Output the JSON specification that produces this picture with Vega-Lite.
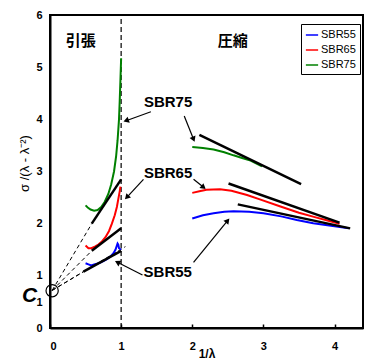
{
  "$schema": "https://vega.github.io/schema/vega-lite/v6.json",
  "width": 313,
  "height": 313,
  "autosize": {"type": "none"},
  "padding": {"left": 50, "top": 15, "right": 10, "bottom": 35},
  "config": {
    "font": "Liberation Sans",
    "view": {"stroke": "black", "strokeWidth": 2},
    "axis": {"grid": false, "domainColor": "black", "domainWidth": 2, "labelColor": "black", "titleColor": "black", "tickColor": "black"}
  },
  "datasets": {
    "curves": [
      {"s": "SBR75", "part": "t", "x": 0.50, "y": 2.35},
      {"s": "SBR75", "part": "t", "x": 0.53, "y": 2.31},
      {"s": "SBR75", "part": "t", "x": 0.57, "y": 2.27},
      {"s": "SBR75", "part": "t", "x": 0.62, "y": 2.25},
      {"s": "SBR75", "part": "t", "x": 0.67, "y": 2.26},
      {"s": "SBR75", "part": "t", "x": 0.72, "y": 2.32},
      {"s": "SBR75", "part": "t", "x": 0.77, "y": 2.42},
      {"s": "SBR75", "part": "t", "x": 0.82, "y": 2.57},
      {"s": "SBR75", "part": "t", "x": 0.86, "y": 2.75},
      {"s": "SBR75", "part": "t", "x": 0.90, "y": 3.00},
      {"s": "SBR75", "part": "t", "x": 0.93, "y": 3.30},
      {"s": "SBR75", "part": "t", "x": 0.95, "y": 3.60},
      {"s": "SBR75", "part": "t", "x": 0.97, "y": 4.00},
      {"s": "SBR75", "part": "t", "x": 0.98, "y": 4.35},
      {"s": "SBR75", "part": "t", "x": 0.99, "y": 4.75},
      {"s": "SBR75", "part": "t", "x": 1.00, "y": 5.17},
      {"s": "SBR65", "part": "t", "x": 0.50, "y": 1.58},
      {"s": "SBR65", "part": "t", "x": 0.54, "y": 1.53},
      {"s": "SBR65", "part": "t", "x": 0.58, "y": 1.53},
      {"s": "SBR65", "part": "t", "x": 0.63, "y": 1.56},
      {"s": "SBR65", "part": "t", "x": 0.68, "y": 1.60},
      {"s": "SBR65", "part": "t", "x": 0.73, "y": 1.66},
      {"s": "SBR65", "part": "t", "x": 0.78, "y": 1.74},
      {"s": "SBR65", "part": "t", "x": 0.83, "y": 1.86},
      {"s": "SBR65", "part": "t", "x": 0.87, "y": 2.00},
      {"s": "SBR65", "part": "t", "x": 0.91, "y": 2.16},
      {"s": "SBR65", "part": "t", "x": 0.94, "y": 2.32},
      {"s": "SBR65", "part": "t", "x": 0.96, "y": 2.47},
      {"s": "SBR65", "part": "t", "x": 0.98, "y": 2.62},
      {"s": "SBR65", "part": "t", "x": 0.99, "y": 2.71},
      {"s": "SBR55", "part": "t", "x": 0.50, "y": 1.24},
      {"s": "SBR55", "part": "t", "x": 0.54, "y": 1.22},
      {"s": "SBR55", "part": "t", "x": 0.58, "y": 1.20},
      {"s": "SBR55", "part": "t", "x": 0.62, "y": 1.22},
      {"s": "SBR55", "part": "t", "x": 0.66, "y": 1.23},
      {"s": "SBR55", "part": "t", "x": 0.70, "y": 1.25},
      {"s": "SBR55", "part": "t", "x": 0.75, "y": 1.28},
      {"s": "SBR55", "part": "t", "x": 0.80, "y": 1.32},
      {"s": "SBR55", "part": "t", "x": 0.85, "y": 1.37},
      {"s": "SBR55", "part": "t", "x": 0.89, "y": 1.43},
      {"s": "SBR55", "part": "t", "x": 0.92, "y": 1.50},
      {"s": "SBR55", "part": "t", "x": 0.94, "y": 1.58},
      {"s": "SBR55", "part": "t", "x": 0.95, "y": 1.62},
      {"s": "SBR55", "part": "t", "x": 0.96, "y": 1.60},
      {"s": "SBR55", "part": "t", "x": 0.97, "y": 1.53},
      {"s": "SBR55", "part": "t", "x": 1.00, "y": 1.50},
      {"s": "SBR75", "part": "c", "x": 2.00, "y": 3.47},
      {"s": "SBR75", "part": "c", "x": 2.15, "y": 3.45},
      {"s": "SBR75", "part": "c", "x": 2.30, "y": 3.42},
      {"s": "SBR75", "part": "c", "x": 2.45, "y": 3.37},
      {"s": "SBR75", "part": "c", "x": 2.58, "y": 3.31},
      {"s": "SBR75", "part": "c", "x": 2.70, "y": 3.26},
      {"s": "SBR75", "part": "c", "x": 2.82, "y": 3.21},
      {"s": "SBR75", "part": "c", "x": 2.98, "y": 3.10},
      {"s": "SBR65", "part": "c", "x": 2.00, "y": 2.59},
      {"s": "SBR65", "part": "c", "x": 2.10, "y": 2.62},
      {"s": "SBR65", "part": "c", "x": 2.20, "y": 2.65},
      {"s": "SBR65", "part": "c", "x": 2.39, "y": 2.66},
      {"s": "SBR65", "part": "c", "x": 2.55, "y": 2.63},
      {"s": "SBR65", "part": "c", "x": 2.77, "y": 2.55},
      {"s": "SBR65", "part": "c", "x": 2.94, "y": 2.47},
      {"s": "SBR65", "part": "c", "x": 3.24, "y": 2.33},
      {"s": "SBR65", "part": "c", "x": 3.50, "y": 2.21},
      {"s": "SBR65", "part": "c", "x": 3.71, "y": 2.13},
      {"s": "SBR65", "part": "c", "x": 3.90, "y": 2.06},
      {"s": "SBR65", "part": "c", "x": 4.07, "y": 2.00},
      {"s": "SBR55", "part": "c", "x": 2.00, "y": 2.10},
      {"s": "SBR55", "part": "c", "x": 2.15, "y": 2.16},
      {"s": "SBR55", "part": "c", "x": 2.30, "y": 2.20},
      {"s": "SBR55", "part": "c", "x": 2.45, "y": 2.23},
      {"s": "SBR55", "part": "c", "x": 2.58, "y": 2.24},
      {"s": "SBR55", "part": "c", "x": 2.80, "y": 2.23},
      {"s": "SBR55", "part": "c", "x": 3.00, "y": 2.20},
      {"s": "SBR55", "part": "c", "x": 3.25, "y": 2.14},
      {"s": "SBR55", "part": "c", "x": 3.47, "y": 2.07},
      {"s": "SBR55", "part": "c", "x": 3.70, "y": 2.01},
      {"s": "SBR55", "part": "c", "x": 3.95, "y": 1.96},
      {"s": "SBR55", "part": "c", "x": 4.20, "y": 1.91}
    ],
    "fits": [
      {"id": "75t", "x": 0.587, "y": 2.00}, {"id": "75t", "x": 1.0, "y": 2.85},
      {"id": "65t", "x": 0.587, "y": 1.48}, {"id": "65t", "x": 1.0, "y": 1.91},
      {"id": "55t", "x": 0.47, "y": 1.08}, {"id": "55t", "x": 1.0, "y": 1.48},
      {"id": "75c", "x": 2.10, "y": 3.70}, {"id": "75c", "x": 3.53, "y": 2.76},
      {"id": "65c", "x": 2.51, "y": 2.77}, {"id": "65c", "x": 4.07, "y": 2.02},
      {"id": "55c", "x": 2.64, "y": 2.37}, {"id": "55c", "x": 4.22, "y": 1.91}
    ],
    "dashes": [
      {"id": "d75", "x": 0.03, "y": 0.72}, {"id": "d75", "x": 0.587, "y": 2.00},
      {"id": "d65", "x": 0.03, "y": 0.72}, {"id": "d65", "x": 0.587, "y": 1.48},
      {"id": "d55", "x": 0.03, "y": 0.72}, {"id": "d55", "x": 0.47, "y": 1.08},
      {"id": "dx", "x": 0.03, "y": 0.72}, {"id": "dx", "x": 1.06, "y": 1.56}
    ],
    "vline": [{"x": 1, "y": 0, "y2": 6}],
    "arrows": [
      {"x": 1.418, "y": 4.146, "x2": 1.070, "y2": 3.974},
      {"x": 1.887, "y": 4.064, "x2": 2.018, "y2": 3.617},
      {"x": 1.314, "y": 2.850, "x2": 1.080, "y2": 2.505},
      {"x": 2.018, "y": 2.850, "x2": 2.159, "y2": 2.697},
      {"x": 1.300, "y": 1.016, "x2": 0.948, "y2": 1.259},
      {"x": 2.018, "y": 1.259, "x2": 2.497, "y2": 2.057}
    ],
    "labels": [
      {"x": 1.66, "y": 4.33, "text": "SBR75"},
      {"x": 1.66, "y": 2.97, "text": "SBR65"},
      {"x": 1.655, "y": 1.08, "text": "SBR55"}
    ],
    "regions": [
      {"x": 0.434, "y": 5.5, "text": "引張"},
      {"x": 2.57, "y": 5.5, "text": "圧縮"}
    ],
    "circle": [{"x": 0.03, "y": 0.715}],
    "cbig": [{"x": -0.288, "y": 0.623, "text": "C"}],
    "csub": [{"x": -0.148, "y": 0.479, "text": "1"}]
  },
  "encoding": {
    "x": {"field": "x", "type": "quantitative", "title": "1/λ",
      "scale": {"domain": [0, 4.4], "nice": false, "zero": false},
      "axis": {"values": [0, 1, 2, 3, 4], "format": "d", "labelFont": "Liberation Sans", "labelFontWeight": "bold", "labelFontSize": 11, "tickSize": -4, "tickWidth": 1.5, "labelPadding": 16, "titleFont": "Liberation Sans", "titleFontWeight": "bold", "titleFontSize": 12, "titlePadding": -3}},
    "y": {"field": "y", "type": "quantitative", "title": "σ /(λ - λ⁻²)",
      "scale": {"domain": [0, 6], "nice": false, "zero": false},
      "axis": {"values": [0, 1, 2, 3, 4, 5, 6], "format": "d", "labelFont": "Liberation Sans", "labelFontWeight": "bold", "labelFontSize": 11, "ticks": false, "labelPadding": 8, "titleFont": "Liberation Sans", "titleFontWeight": "normal", "titleFontSize": 13, "titleX": -26, "titleY": 148, "titleBaseline": "middle", "titleAlign": "center", "titleAngle": -90}}
  },
  "layer": [
    {
      "data": {"name": "vline"},
      "mark": {"type": "rule", "color": "black", "strokeWidth": 1.2, "strokeDash": [5, 3]},
      "encoding": {"y2": {"field": "y2"}}
    },
    {
      "data": {"name": "dashes"},
      "mark": {"type": "line", "color": "black", "strokeWidth": 1, "strokeDash": [4, 3]},
      "encoding": {"detail": {"field": "id"}}
    },
    {
      "data": {"name": "curves"},
      "mark": {"type": "line", "strokeWidth": 2},
      "encoding": {
        "color": {"field": "s", "type": "nominal",
          "scale": {"domain": ["SBR55", "SBR65", "SBR75"], "range": ["#0000ff", "#ff0000", "#008000"]},
          "legend": {"title": null, "orient": "none", "legendX": 251, "legendY": 9, "strokeColor": "black", "fillColor": "white", "padding": 4, "symbolType": "stroke", "symbolSize": 150, "symbolStrokeWidth": 1.5, "labelFontSize": 11, "labelFont": "Liberation Sans", "labelColor": "black", "rowPadding": 3, "labelOffset": 2, "cornerRadius": 0}},
        "detail": {"field": "part"}
      }
    },
    {
      "data": {"name": "fits"},
      "mark": {"type": "line", "color": "black", "strokeWidth": 2.5},
      "encoding": {"detail": {"field": "id"}}
    },
    {
      "data": {"name": "arrows"},
      "mark": {"type": "rule", "color": "black", "strokeWidth": 1.2},
      "encoding": {"x2": {"field": "x2"}, "y2": {"field": "y2"}}
    },
    {
      "data": {"name": "arrows"},
      "transform": [{"calculate": "(atan2((datum.x2-datum.x)*71.14, (datum.y2-datum.y)*52.17)*180/PI + 360) % 360", "as": "ang"}],
      "mark": {"type": "point", "shape": "triangle-up", "filled": true, "color": "black", "size": 40, "opacity": 1},
      "encoding": {
        "x": {"field": "x2", "type": "quantitative", "title": "1/λ"},
        "y": {"field": "y2", "type": "quantitative", "title": "σ /(λ - λ⁻²)"},
        "angle": {"field": "ang", "type": "quantitative", "scale": null}
      }
    },
    {
      "data": {"name": "labels"},
      "mark": {"type": "text", "font": "Liberation Sans", "fontWeight": "bold", "fontSize": 15, "color": "black", "baseline": "middle", "align": "center"},
      "encoding": {"text": {"field": "text"}}
    },
    {
      "data": {"name": "regions"},
      "mark": {"type": "text", "font": "Noto Sans CJK JP", "fontWeight": "bold", "fontSize": 15, "color": "black", "baseline": "middle", "align": "center"},
      "encoding": {"text": {"field": "text"}}
    },
    {
      "data": {"name": "circle"},
      "mark": {"type": "point", "shape": "circle", "filled": false, "color": "black", "size": 150, "strokeWidth": 1.2, "opacity": 1},
      "encoding": {}
    },
    {
      "data": {"name": "cbig"},
      "mark": {"type": "text", "font": "Liberation Sans", "fontWeight": "bold", "fontStyle": "italic", "fontSize": 21, "color": "black", "baseline": "middle", "align": "center"},
      "encoding": {"text": {"field": "text"}}
    },
    {
      "data": {"name": "csub"},
      "mark": {"type": "text", "font": "Liberation Sans", "fontWeight": "bold", "fontSize": 11, "color": "black", "baseline": "middle", "align": "center"},
      "encoding": {"text": {"field": "text"}}
    }
  ]
}
